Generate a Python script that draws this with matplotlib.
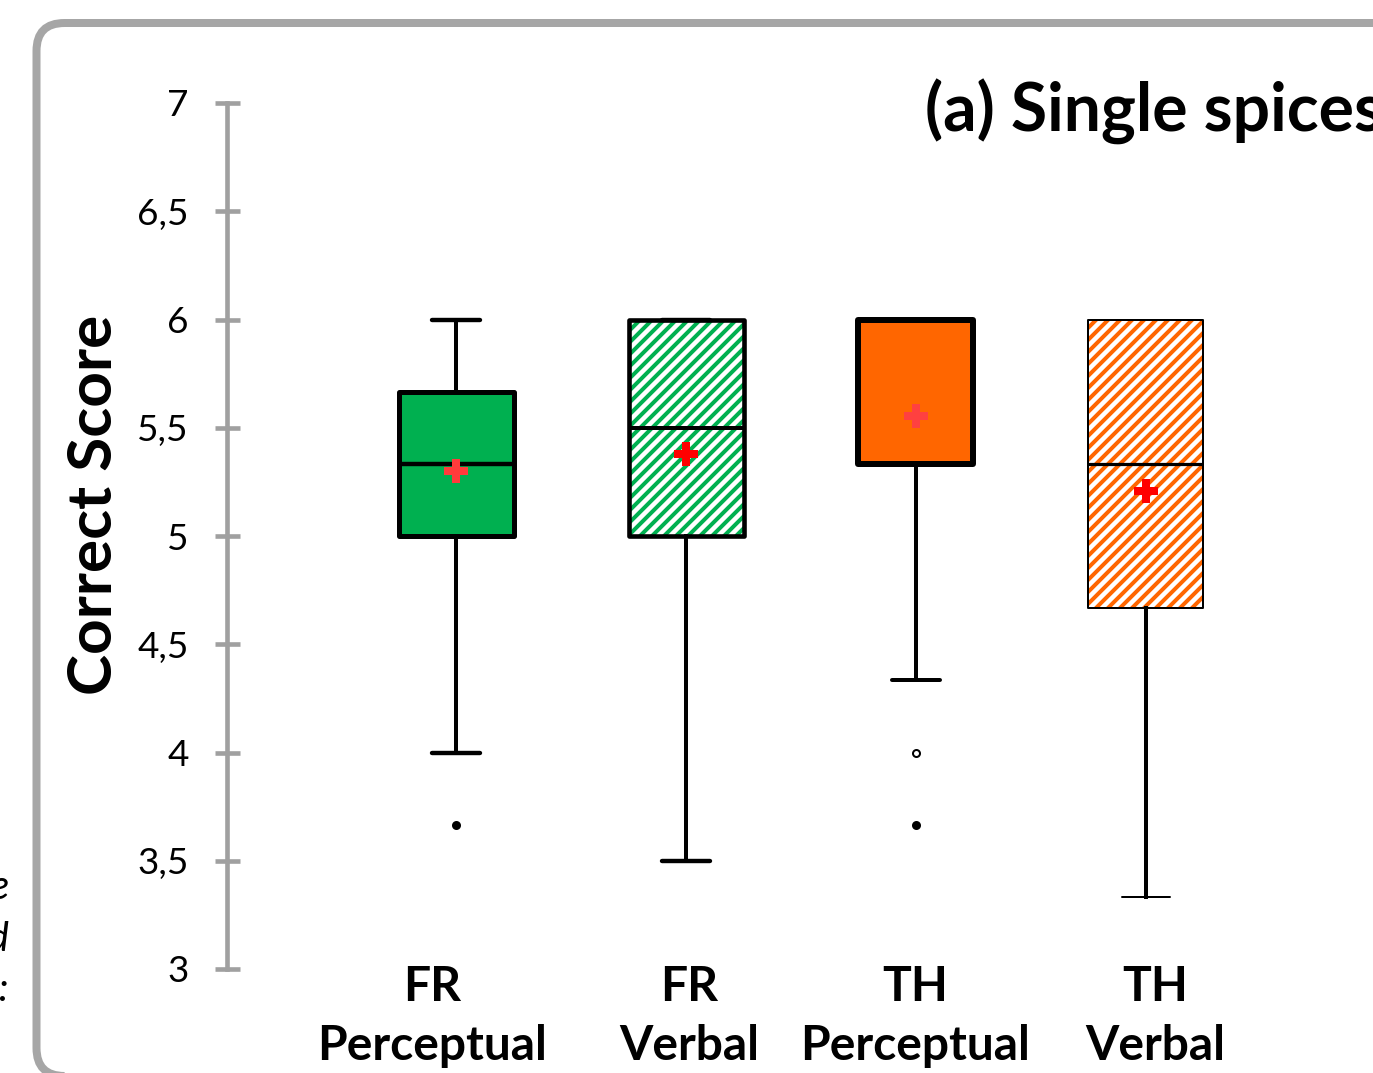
import numpy as np
import matplotlib
matplotlib.use("Agg")
import matplotlib.pyplot as plt
from matplotlib.patches import FancyBboxPatch, PathPatch
from matplotlib.ticker import FuncFormatter

# ---------------- data ----------------
categories = ["FR\nPerceptual", "FR\nVerbal", "TH\nPerceptual", "TH\nVerbal"]
q1 = [5.0, 5.0, 5.333, 4.667]
median = [5.333, 5.5, 6.0, 5.333]
q3 = [5.667, 6.0, 6.0, 6.0]
whisker_low = [4.0, 3.5, 4.333, 3.333]
whisker_high = [6.0, 6.0, 6.0, 6.0]
means = [5.30, 5.38, 5.555, 5.21]
outliers_filled = [[3.667], [], [3.667], []]
outliers_open = [[], [], [4.0], []]
y_ticks = [3, 3.5, 4, 4.5, 5, 5.5, 6, 6.5, 7]
title = "(a) Single spices"
y_label = "Correct Score"
side_text = ["la figure", "and", "spices:"]

# ---------------- styles ----------------
box_face = ["#00b050", "white", "#ff6600", "white"]
hatch_col = [None, "#00b050", None, "#ff6600"]
box_lw = [2.5, 2.3, 3.0, 1.0]
med_lw = [2.2, 2.0, 2.2, 1.6]
cap_lw = [2.2, 2.2, 2.0, 1.0]
whisk_lw = [2.0, 2.0, 2.0, 2.0]
mean_col = ["#ff3b3b", "#ff0000", "#ff4040", "#ff0000"]
label_pos = [0.896, 2.013, 2.996, 4.039]

DPI = 144
W, H = 1373, 1073
plt.rcParams['font.family'] = ['Lato', 'DejaVu Sans']
plt.rcParams['hatch.linewidth'] = 2.0

fig = plt.figure(figsize=(W / DPI, H / DPI), dpi=DPI)
fig.patch.set_facecolor("white")

ax = fig.add_axes([227 / W, 104 / H, 1 - 227 / W, 866 / H])
ax.set_facecolor("none")

positions = np.arange(1, len(categories) + 1)
stats = []
for i in range(len(categories)):
    stats.append(dict(med=median[i], q1=q1[i], q3=q3[i],
                      whislo=whisker_low[i], whishi=whisker_high[i],
                      mean=means[i], fliers=outliers_filled[i],
                      label=categories[i]))

art = ax.bxp(stats, positions=positions, widths=0.5, capwidths=0.21,
             patch_artist=True, showmeans=True, manage_ticks=False,
             flierprops=dict(marker="o", markerfacecolor="black",
                             markeredgecolor="black", markersize=3.5),
             meanprops=dict(marker="P", markersize=12, markeredgewidth=0),
             medianprops=dict(color="black"),
             whiskerprops=dict(color="black"),
             capprops=dict(color="black"))

for i in range(len(categories)):
    b = art["boxes"][i]
    if hatch_col[i] is None:
        b.set_facecolor(box_face[i])
        b.set_edgecolor("black")
        b.set_linewidth(box_lw[i])
        b.set_joinstyle("round")
    else:
        b.set_facecolor("white")
        b.set_edgecolor(hatch_col[i])
        b.set_hatch("////")
        b.set_linewidth(0)
        outline = PathPatch(b.get_path(), fill=False, edgecolor="black",
                            linewidth=box_lw[i], joinstyle="round",
                            zorder=b.get_zorder() + 0.05,
                            transform=ax.transData)
        ax.add_patch(outline)
    art["medians"][i].set_linewidth(med_lw[i])
    art["medians"][i].set_zorder(b.get_zorder() + 0.2)
    for j in (2 * i, 2 * i + 1):
        art["whiskers"][j].set_linewidth(whisk_lw[i])
        art["caps"][j].set_linewidth(cap_lw[i])
        art["caps"][j].set_solid_capstyle("round")
    art["means"][i].set_markerfacecolor(mean_col[i])
    art["means"][i].set_zorder(b.get_zorder() + 0.3)
    if outliers_open[i]:
        ax.plot([positions[i]] * len(outliers_open[i]), outliers_open[i],
                linestyle="none", marker="o", markersize=3.5,
                markerfacecolor="white", markeredgecolor="black",
                markeredgewidth=1.0)

ax.set_ylim(3, 7)
ax.set_xlim(0.0043, 4.987)

for s in ["top", "right", "bottom"]:
    ax.spines[s].set_visible(False)
ax.spines["left"].set_color("#a0a0a0")
ax.spines["left"].set_linewidth(2.3)

ax.set_yticks(y_ticks)
ax.yaxis.set_major_formatter(FuncFormatter(lambda v, p: f"{v:g}".replace(".", ",")))
ax.tick_params(axis="y", direction="inout", length=12.5, width=2.3,
               color="#a0a0a0", pad=13.0, labelsize=18.5, labelcolor="black")

ax.set_xticks(label_pos)
ax.set_xticklabels(categories, fontweight="bold", fontsize=24)
ax.tick_params(axis="x", length=0, pad=-2)
for lab in ax.get_xticklabels():
    lab.set_linespacing(1.42)

fig.text(94 / W, 1 - 505 / H, y_label, rotation=90, ha="center",
         va="center", fontsize=31, fontweight="bold")
fig.text(925 / W, 1 - 132 / H, title, ha="left", va="baseline",
         fontsize=33, fontweight="bold")

for txt, yb in zip(side_text, [899, 951, 1001]):
    fig.text(9 / W, 1 - yb / H, txt, ha="right", va="baseline",
             fontsize=20, style="italic")

border = FancyBboxPatch((36.5 / DPI, -3 / DPI), (1600 - 36.5) / DPI,
                        (1050 + 3) / DPI,
                        boxstyle=f"round,pad=0,rounding_size={28 / DPI}",
                        transform=fig.dpi_scale_trans, fill=False,
                        edgecolor="#a6a6a6", linewidth=4.0)
fig.add_artist(border)

fig.savefig("out.png", dpi=DPI)
